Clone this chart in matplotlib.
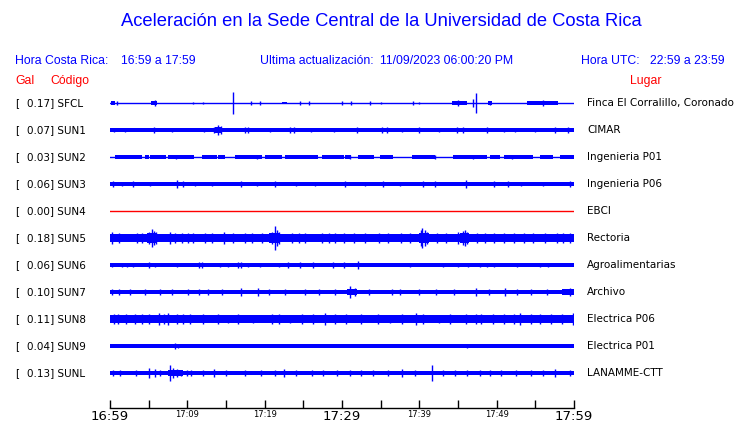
import matplotlib.pyplot as plt
import numpy as np

# Estaciones, aceleracion maxima (Gal) y lugar
codigos = ['SFCL', 'SUN1', 'SUN2', 'SUN3', 'SUN4', 'SUN5',
           'SUN6', 'SUN7', 'SUN8', 'SUN9', 'SUNL']
gal_max = [0.17, 0.07, 0.03, 0.06, 0.00, 0.18, 0.06, 0.10, 0.11, 0.04, 0.13]
lugares = ['Finca El Corralillo, Coronado', 'CIMAR', 'Ingenieria P01',
           'Ingenieria P06', 'EBCI', 'Rectoria', 'Agroalimentarias',
           'Archivo', 'Electrica P06', 'Electrica P01', 'LANAMME-CTT']

# Nivel de ruido de fondo de cada traza (Gal)
ruido = [0.0, 0.027, 0.0, 0.028, 0.0, 0.058, 0.027, 0.033, 0.058, 0.028, 0.03]

# Tramos con mas energia: (minuto inicio, minuto fin, amplitud Gal)
tramos = [
    [(0.1, 0.6, 0.03), (5.3, 6.1, 0.03), (22.3, 22.9, 0.02),
     (44.2, 46.2, 0.032), (48.9, 49.4, 0.028), (53.9, 57.9, 0.03)],
    [(13.6, 14.4, 0.04), (23.0, 24.0, 0.033), (44.6, 45.9, 0.033)],
    [(0.6, 4.1, 0.024), (4.5, 5.0, 0.024), (5.2, 7.2, 0.024), (7.5, 10.8, 0.024),
     (11.9, 13.8, 0.024), (14.0, 14.9, 0.024), (16.2, 19.6, 0.024),
     (20.0, 22.2, 0.024), (22.6, 26.9, 0.024), (27.4, 30.3, 0.024),
     (30.4, 31.2, 0.024), (32.1, 34.1, 0.024), (34.9, 36.6, 0.024),
     (39.0, 42.0, 0.024), (44.4, 48.7, 0.024), (49.1, 50.4, 0.024),
     (50.9, 54.7, 0.024), (55.6, 57.3, 0.024), (58.2, 60.0, 0.024)],
    [(0.0, 7.5, 0.034), (38.0, 43.0, 0.032), (57.5, 60.0, 0.032)],
    [],
    [(0.0, 1.5, 0.07), (4.8, 6.0, 0.08), (20.6, 22.0, 0.08),
     (40.0, 41.3, 0.085), (45.3, 46.4, 0.075), (58.0, 60.0, 0.068)],
    [(40.9, 41.4, 0.036), (31.8, 32.4, 0.038)],
    [(0.0, 3.0, 0.039), (35.8, 37.9, 0.039), (30.6, 32.0, 0.048), (58.5, 60.0, 0.04)],
    [(0.0, 11.0, 0.068), (39.0, 41.0, 0.07), (46.5, 48.5, 0.068), (58.0, 60.0, 0.07)],
    [(8.2, 8.8, 0.033)],
    [(7.5, 9.5, 0.046), (0.0, 2.0, 0.035)],
]

# Picos aislados: (minuto, amplitud Gal)
picos = [
    [(0.9, 0.025), (5.8, 0.045), (10.7, 0.015), (12.0, 0.015), (15.9, 0.17),
     (18.2, 0.025), (19.4, 0.03), (24.6, 0.03), (25.7, 0.03), (30.0, 0.025),
     (31.2, 0.025), (33.6, 0.03), (35.0, 0.015), (39.2, 0.03), (40.0, 0.02),
     (45.0, 0.05), (47.0, 0.06), (47.3, 0.16), (49.1, 0.035), (56.0, 0.04)],
    [(0.5, 0.035), (2.0, 0.035), (5.7, 0.045), (8.0, 0.035), (12.2, 0.035),
     (13.4, 0.05), (14.0, 0.075), (14.3, 0.055), (17.5, 0.045), (17.9, 0.04),
     (20.7, 0.033), (23.3, 0.04), (23.8, 0.04), (26.0, 0.033), (29.0, 0.035),
     (32.0, 0.05), (35.2, 0.05), (35.8, 0.04), (37.7, 0.035), (39.9, 0.045),
     (42.5, 0.035), (44.9, 0.04), (45.6, 0.04), (48.8, 0.04), (50.9, 0.035),
     (52.4, 0.035), (55.0, 0.035), (57.5, 0.05), (59.2, 0.045)],
    [(8.5, 0.035), (19.0, 0.032), (31.0, 0.032), (42.0, 0.03), (47.0, 0.033),
     (52.0, 0.032)],
    [(0.4, 0.04), (1.5, 0.038), (3.0, 0.04), (5.2, 0.038), (8.6, 0.06),
     (9.5, 0.045), (11.0, 0.037), (13.2, 0.037), (17.0, 0.05), (19.0, 0.036),
     (21.3, 0.045), (24.0, 0.037), (26.5, 0.036), (30.4, 0.04), (33.0, 0.036),
     (35.3, 0.04), (37.5, 0.036), (40.5, 0.048), (42.0, 0.045), (46.0, 0.055),
     (49.6, 0.04), (51.5, 0.04), (53.2, 0.037), (56.0, 0.036), (59.5, 0.04)],
    [],
    [(0.3, 0.09), (1.1, 0.085), (3.5, 0.075), (4.1, 0.075), (5.0, 0.1),
     (5.4, 0.14), (5.7, 0.11), (6.0, 0.09), (7.8, 0.09), (8.4, 0.08),
     (9.3, 0.075), (10.1, 0.08), (10.7, 0.075), (12.3, 0.075), (13.2, 0.075),
     (14.7, 0.09), (15.9, 0.075), (17.5, 0.075), (18.3, 0.075), (19.6, 0.075),
     (20.9, 0.1), (21.3, 0.18), (21.6, 0.13), (21.9, 0.09), (23.5, 0.085),
     (24.4, 0.075), (25.2, 0.075), (27.4, 0.08), (28.3, 0.075), (29.1, 0.075),
     (30.2, 0.085), (31.5, 0.075), (33.0, 0.075), (34.8, 0.075), (36.0, 0.075),
     (37.6, 0.075), (38.8, 0.075), (40.2, 0.12), (40.4, 0.15), (40.7, 0.12),
     (41.0, 0.1), (42.3, 0.075), (43.5, 0.075), (45.0, 0.1), (45.6, 0.11),
     (45.9, 0.13), (46.2, 0.09), (47.5, 0.075), (48.5, 0.075), (49.6, 0.085),
     (51.0, 0.075), (52.2, 0.08), (53.5, 0.075), (54.7, 0.08), (56.2, 0.075),
     (57.8, 0.085), (58.6, 0.08), (59.5, 0.08)],
    [(0.2, 0.035), (1.5, 0.035), (2.2, 0.035), (3.0, 0.035), (5.0, 0.05),
     (5.8, 0.035), (8.6, 0.035), (11.5, 0.05), (11.9, 0.04), (14.2, 0.035),
     (15.3, 0.035), (16.5, 0.05), (17.0, 0.04), (17.9, 0.035), (19.4, 0.035),
     (21.8, 0.035), (23.0, 0.04), (24.6, 0.045), (26.3, 0.04), (28.8, 0.045),
     (30.2, 0.04), (32.1, 0.06), (38.8, 0.035), (43.1, 0.035), (45.0, 0.035),
     (46.3, 0.035), (47.8, 0.035), (48.7, 0.035), (49.6, 0.035), (52.6, 0.035),
     (55.6, 0.035), (56.7, 0.035)],
    [(0.2, 0.05), (1.2, 0.045), (2.6, 0.045), (4.5, 0.042), (6.5, 0.045),
     (8.0, 0.042), (10.1, 0.042), (11.5, 0.04), (12.7, 0.042), (14.5, 0.04),
     (17.0, 0.055), (19.2, 0.055), (20.5, 0.042), (22.6, 0.045), (25.2, 0.045),
     (27.0, 0.042), (29.1, 0.05), (31.0, 0.1), (31.7, 0.065), (33.5, 0.042),
     (36.5, 0.05), (37.5, 0.045), (40.0, 0.042), (42.2, 0.045), (44.5, 0.042),
     (47.3, 0.055), (49.0, 0.042), (51.1, 0.06), (52.6, 0.05), (54.5, 0.042),
     (56.5, 0.042), (59.5, 0.055)],
    [(0.5, 0.085), (1.0, 0.085), (2.1, 0.08), (3.2, 0.08), (4.2, 0.075),
     (5.0, 0.085), (6.3, 0.1), (7.0, 0.08), (7.5, 0.09), (8.6, 0.08),
     (9.5, 0.075), (10.3, 0.085), (12.0, 0.075), (14.0, 0.075), (15.2, 0.07),
     (16.6, 0.075), (18.5, 0.07), (20.9, 0.075), (21.8, 0.075), (23.3, 0.07),
     (24.8, 0.085), (26.2, 0.075), (27.8, 0.09), (29.1, 0.085), (30.5, 0.085),
     (32.5, 0.075), (34.7, 0.075), (36.2, 0.07), (37.7, 0.08), (39.6, 0.09),
     (40.5, 0.08), (42.5, 0.07), (44.0, 0.075), (46.0, 0.075), (47.3, 0.08),
     (48.0, 0.085), (49.5, 0.075), (50.9, 0.085), (52.2, 0.075), (53.0, 0.09),
     (54.5, 0.075), (55.6, 0.08), (57.0, 0.075), (58.5, 0.085), (59.9, 0.09)],
    [(8.4, 0.04), (8.8, 0.035), (46.2, 0.035)],
    [(0.4, 0.045), (1.3, 0.05), (3.4, 0.045), (5.1, 0.08), (5.8, 0.07),
     (6.5, 0.05), (7.7, 0.13), (8.2, 0.085), (8.6, 0.055), (9.2, 0.05),
     (9.9, 0.045), (10.5, 0.045), (12.0, 0.04), (13.4, 0.055), (15.0, 0.04),
     (17.5, 0.04), (19.5, 0.04), (21.3, 0.045), (22.5, 0.065), (24.0, 0.04),
     (26.1, 0.04), (27.5, 0.04), (29.3, 0.05), (31.0, 0.04), (32.5, 0.04),
     (34.0, 0.045), (36.0, 0.04), (37.7, 0.055), (39.4, 0.045), (41.7, 0.12),
     (43.0, 0.04), (44.6, 0.045), (46.1, 0.045), (47.8, 0.04), (49.1, 0.04),
     (50.6, 0.045), (52.5, 0.04), (54.5, 0.05), (56.0, 0.04), (57.5, 0.065),
     (59.5, 0.045)],
]

minutos_ticks = [0, 10, 20, 30, 40, 50, 60]
etiquetas_ticks = ['16:59', '17:09', '17:19', '17:29', '17:39', '17:49', '17:59']

azul = '#0000ff'
rojo = '#ff0000'
escala = 64  # pixeles por Gal
W, H = 740, 423

fig = plt.figure(figsize=(W / 100, H / 100), dpi=100)
ax = fig.add_axes([110 / W, (H - 408) / H, 464 / W, 320 / H])
ax.set_xlim(0, 60)
ax.set_ylim(408, 88)

for i, cod in enumerate(codigos):
    yc = 103 + 27 * i
    if gal_max[i] == 0:
        ax.plot([0, 60], [yc, yc], color=rojo, lw=1.0)
        continue
    ax.plot([0, 60], [yc, yc], color=azul, lw=1.0)
    if ruido[i] > 0:
        ax.fill_between([0, 60], yc - ruido[i] * escala, yc + ruido[i] * escala,
                        color=azul, lw=0)
    for t0, t1, a in tramos[i]:
        ax.fill_between([t0, t1], yc - a * escala, yc + a * escala, color=azul, lw=0)
    if picos[i]:
        t = np.array([p[0] for p in picos[i]])
        a = np.array([p[1] for p in picos[i]])
        ax.vlines(t, yc - a * escala, yc + a * escala, color=azul, lw=1.0)

for s in ['top', 'left', 'right']:
    ax.spines[s].set_visible(False)
ax.spines['bottom'].set_linewidth(1.0)
ax.set_yticks([])
ax.set_xticks(np.arange(0, 61, 5))
ax.tick_params(axis='x', direction='in', length=6, width=1, labelbottom=False)

for m, lab in zip(minutos_ticks, etiquetas_ticks):
    grande = m in (0, 30, 60)
    ax.text(m, 408 + (8 if grande else 6), lab, ha='center', va='center',
            fontsize=9.5 if grande else 6, family='DejaVu Sans', clip_on=False)

# Textos de encabezado
def px(x, y):
    return x / W, 1 - y / H

fig.text(*px(381, 22), 'Aceleración en la Sede Central de la Universidad de Costa Rica',
         ha='center', va='center', color=azul, fontsize=13.2, family='Liberation Sans')
f_enc = dict(va='center', color=azul, fontsize=8.8, family='Liberation Sans')
fig.text(*px(15, 61), 'Hora Costa Rica:', **f_enc)
fig.text(*px(121, 61), '16:59 a 17:59', **f_enc)
fig.text(*px(260, 61), 'Ultima actualización:', **f_enc)
fig.text(*px(380, 61), '11/09/2023 06:00:20 PM', **f_enc)
fig.text(*px(581, 61), 'Hora UTC:', **f_enc)
fig.text(*px(650, 61), '22:59 a 23:59', **f_enc)
f_rojo = dict(va='center', color=rojo, fontsize=8.8, family='Liberation Sans')
fig.text(*px(15, 81), 'Gal', **f_rojo)
fig.text(*px(50, 81), 'Código', **f_rojo)
fig.text(*px(630, 81), 'Lugar', **f_rojo)

for i, cod in enumerate(codigos):
    yc = 103 + 27 * i
    fig.text(*px(15, yc), '[', va='center', fontsize=7.5, family='DejaVu Sans')
    fig.text(*px(27, yc), f'{gal_max[i]:.2f}] {cod}', va='center', fontsize=7.5,
             family='DejaVu Sans')
    fig.text(*px(587, yc), lugares[i], va='center', fontsize=7.5, family='DejaVu Sans')

fig.savefig('out.png', dpi=100)
